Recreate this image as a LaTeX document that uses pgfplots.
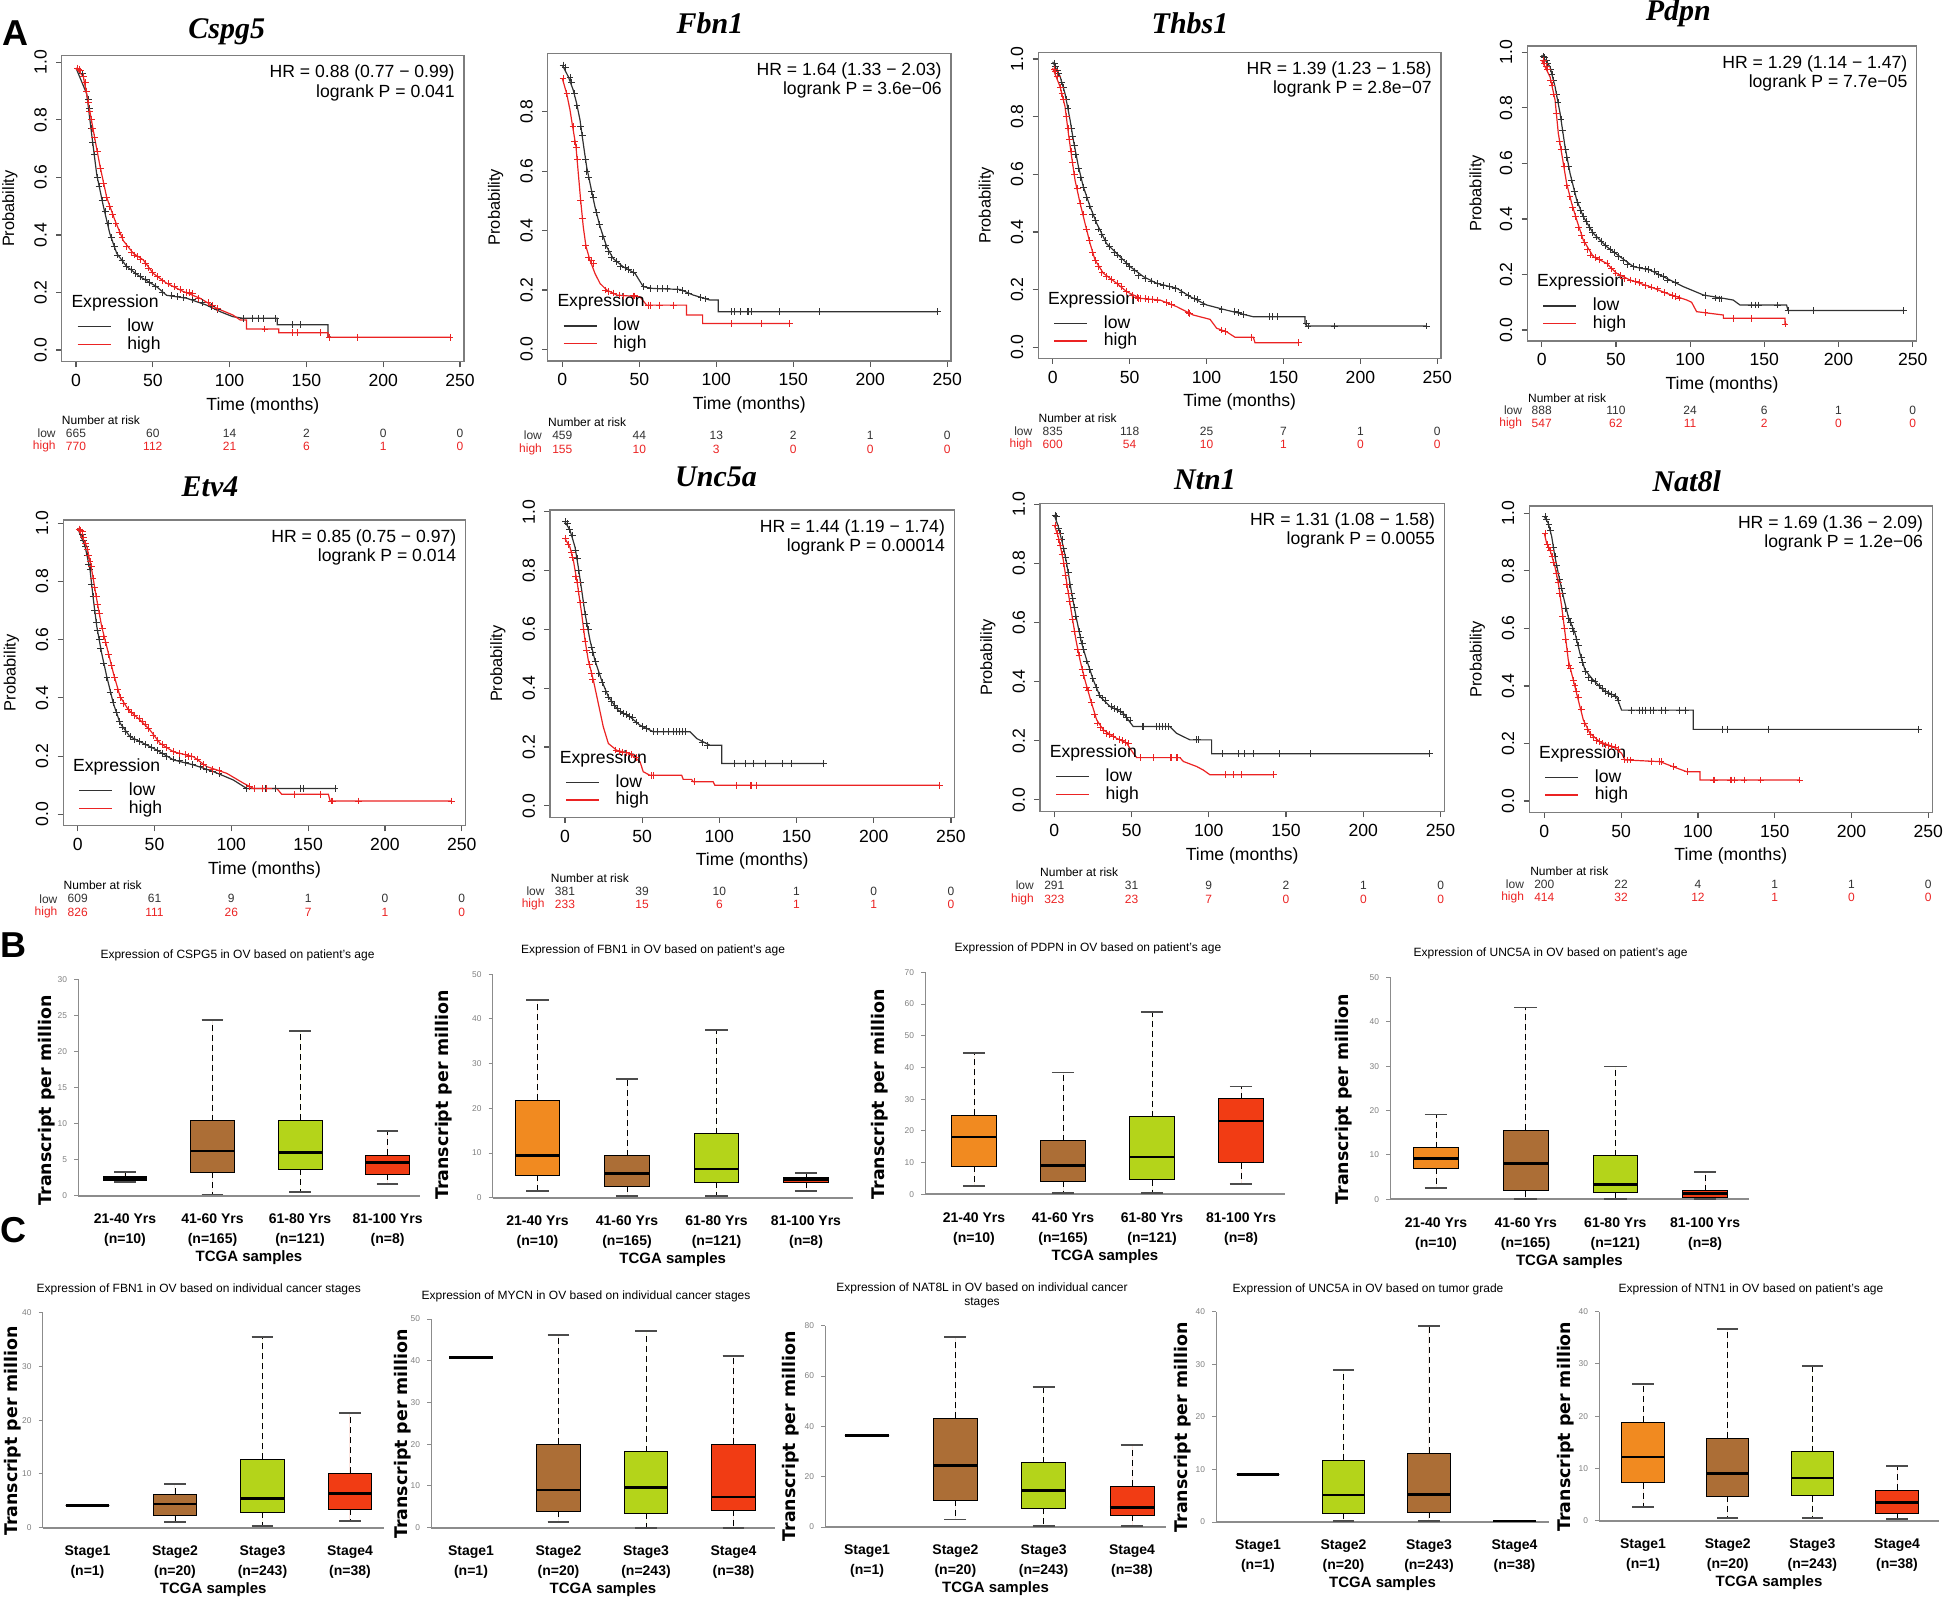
\documentclass[border=0pt]{standalone}
\usepackage{fontspec}
\setmainfont{Liberation Sans}
\newfontfamily\genefont{Liberation Serif}
\newfontfamily\dvfont{DejaVu Sans}
\usepackage{pgfplots}
\pgfplotsset{compat=1.18}
\usepgfplotslibrary{statistics}

\definecolor{kmlow}{RGB}{50,50,50}
\definecolor{kmhigh}{RGB}{235,35,35}
\definecolor{kmbox}{RGB}{125,125,125}
\definecolor{cOr}{RGB}{241,138,32}
\definecolor{cBr}{RGB}{172,110,54}
\definecolor{cGr}{RGB}{180,212,26}
\definecolor{cRd}{RGB}{241,60,20}

\newcommand{\kmfont}{\fontsize{8.8}{10}\selectfont}
\newcommand{\riskfont}{\fontsize{6}{7}\selectfont}

% one row of the number-at-risk table (inside a KM axis)
\newcommand{\riskrow}[9]{%
  \node[anchor=east,text=#2,font=\riskfont,inner sep=0pt] at (axis cs:-13,#1) {#3};
  \node[text=#2,font=\riskfont,inner sep=0pt] at (axis cs:0,#1) {#4};
  \node[text=#2,font=\riskfont,inner sep=0pt] at (axis cs:50,#1) {#5};
  \node[text=#2,font=\riskfont,inner sep=0pt] at (axis cs:100,#1) {#6};
  \node[text=#2,font=\riskfont,inner sep=0pt] at (axis cs:150,#1) {#7};
  \node[text=#2,font=\riskfont,inner sep=0pt] at (axis cs:200,#1) {#8};
  \node[text=#2,font=\riskfont,inner sep=0pt] at (axis cs:250,#1) {#9};
}
% HR text, legend title, risk table heading
\newcommand{\kmtext}[2]{%
  \node[anchor=north east,align=right,font=\fontsize{8.8}{9.6}\selectfont,inner sep=0pt,xshift=-4.5pt,yshift=-4.5pt] at (rel axis cs:1,1) {HR = #1\\logrank P = #2};
  \node[anchor=west,font=\kmfont,inner sep=0pt,xshift=4.7pt,yshift=29.3pt] at (rel axis cs:0,0) {Expression};
  \node[anchor=west,font=\riskfont,inner sep=0pt] at (axis cs:-9.4,-0.245) {Number at risk};
}
% one prepared box: position, lower whisker, q1, median, q3, upper whisker, colour
\newcommand{\bx}[7]{%
  \addplot[boxplot prepared={draw position=#1, lower whisker=#2, lower quartile=#3,
    median=#4, upper quartile=#5, upper whisker=#6}, fill=#7, draw=none] coordinates {};
}

\pgfplotsset{
  legend image code/.code={\draw[#1] (0pt,0pt) -- (16.5pt,0pt);},
  cens/.style={only marks, mark=+, mark size=1.7pt, line width=0.45pt, forget plot},
  km/.style={
    scale only axis, anchor=north west, clip=false,
    axis line style={draw=kmbox, line width=0.6pt},
    tick style={draw=kmbox!70!black, line width=0.6pt},
    tick align=outside, major tick length=2.8pt, tick pos=left,
    xtick={0,50,100,150,200,250}, ytick={0,0.2,0.4,0.6,0.8,1.0},
    tick label style={font=\kmfont},
    yticklabel style={rotate=90, anchor=south, inner sep=4.5pt},
    y tick label style={/pgf/number format/fixed, /pgf/number format/fixed zerofill, /pgf/number format/precision=1},
    /pgf/number format/assume math mode=true,
    xlabel={Time (months)}, ylabel={Probability},
    every axis x label/.style={at={(axis description cs:0.5,0)}, anchor=center, yshift=-22pt, font=\kmfont},
    every axis y label/.style={at={(axis description cs:-0.129,0.5)}, anchor=center, rotate=90, font=\fontsize{8.2}{10}\selectfont},
    legend style={at={(rel axis cs:0,0)}, anchor=south west, xshift=7.5pt, yshift=3.5pt,
      draw=none, fill=none, inner sep=0pt, row sep=-1pt, font=\kmfont, nodes={inner sep=1pt},
      /tikz/every odd column/.append style={column sep=7pt}},
    legend cell align=left,
  },
  bxax/.style={
    scale only axis, anchor=north west, clip=false,
    axis x line*=bottom, axis y line*=left,
    x axis line style={draw=gray!90, line width=1pt, -},
    y axis line style={draw=gray!90, line width=0.5pt, -},
    ymin=0, xtick={1,2,3,4},
    x tick style={draw=none},
    y tick style={draw=gray!90, line width=0.5pt},
    tick align=outside, major tick length=2pt,
    yticklabel style={font=\fontsize{4.2}{5}\selectfont, text=gray},
    xticklabel style={font=\bfseries\fontsize{7}{10}\selectfont, align=center, yshift=-3.5pt},
    /pgf/number format/assume math mode=true,
    xlabel={TCGA samples}, ylabel={Transcript per million},
    every axis x label/.style={at={(axis description cs:0.5,0)}, anchor=center, yshift=-31pt, font=\bfseries\fontsize{7.5}{9}\selectfont},
    every axis y label/.style={at={(axis description cs:-0.1,0.45)}, anchor=center, rotate=90, font=\dvfont\bfseries\fontsize{8.7}{10}\selectfont},
    boxplot/draw direction=y,
    boxplot/box extend=0.5, boxplot/whisker extend=0.25,
    boxplot/every median/.style={draw=black, line width=1.3pt},
    boxplot/draw/lower whisker/.code={%
      \draw[draw=black, densely dashed, line width=0.4pt]
        (boxplot box cs:\pgfplotsboxplotvalue{lower quartile},0.5) --
        (boxplot box cs:\pgfplotsboxplotvalue{lower whisker},0.5);
      \draw[draw=black!70, solid, line width=0.9pt]
        (boxplot whisker cs:\pgfplotsboxplotvalue{lower whisker},0) --
        (boxplot whisker cs:\pgfplotsboxplotvalue{lower whisker},1);
    },
    boxplot/draw/upper whisker/.code={%
      \draw[draw=black, densely dashed, line width=0.4pt]
        (boxplot box cs:\pgfplotsboxplotvalue{upper quartile},0.5) --
        (boxplot box cs:\pgfplotsboxplotvalue{upper whisker},0.5);
      \draw[draw=black!70, solid, line width=0.9pt]
        (boxplot whisker cs:\pgfplotsboxplotvalue{upper whisker},0) --
        (boxplot whisker cs:\pgfplotsboxplotvalue{upper whisker},1);
    },
  },
  agelabels/.style={xticklabels={{21-40 Yrs\\(n=10)},{41-60 Yrs\\(n=165)},{61-80 Yrs\\(n=121)},{81-100 Yrs\\(n=8)}}},
  stagelabels/.style={xticklabels={{Stage1\\(n=1)},{Stage2\\(n=20)},{Stage3\\(n=243)},{Stage4\\(n=38)}}},
}

\begin{document}
\begin{tikzpicture}
\useasboundingbox (0pt,0pt) rectangle (972pt,-800pt);

% ---------------- A: Kaplan-Meier curves ----------------
\begin{axis}[km, at={(30.85pt,-27.85pt)}, width=201.15pt, height=153pt,
  xmin=-9.31, xmax=252.6, ymin=-0.0407, ymax=1.0229]
\addplot[kmlow, line width=0.6pt] coordinates {(0,0.98)(7,0.89)(10.2,0.75)(13.5,0.61)(17.8,0.50)(22,0.405)(26.5,0.336)(33,0.29)(41.7,0.255)(52.5,0.22)(59,0.19)(72,0.18)(85,0.156)(94,0.133)(102,0.116)(109,0.11)(131,0.11)(131,0.088)(164,0.088)(164,0.045)(166,0.045)};
\addlegendentry{low}
\addplot[kmlow, cens] coordinates {(2,0.975)(3,0.97)(4,0.96)(5,0.95)(6,0.93)(7,0.9)(8,0.87)(9,0.84)(10,0.77)(11,0.72)(12,0.68)(14,0.6)(15,0.57)(17,0.52)(19,0.48)(21,0.44)(23,0.39)(25,0.36)(27,0.33)(30,0.31)(33,0.29)(36,0.28)(39,0.265)(42,0.255)(45,0.245)(48,0.235)(52,0.22)(56,0.2)(62,0.19)(66,0.185)(70,0.182)(76,0.175)(82,0.165)(88,0.15)(92,0.14)(109,0.11)(115,0.11)(119,0.11)(122,0.11)(130,0.11)(141,0.088)(146,0.088)};
\addplot[kmhigh, line width=0.6pt] coordinates {(0,0.98)(4.8,0.95)(9,0.83)(12.4,0.73)(15.6,0.64)(20,0.53)(25.4,0.45)(30.8,0.38)(37.3,0.336)(43.8,0.313)(50.3,0.266)(59,0.232)(70,0.203)(80.7,0.18)(91.6,0.145)(102,0.122)(107,0.104)(111,0.104)(111,0.073)(132,0.073)(132,0.06)(164,0.06)(164,0.044)(243.5,0.044)};
\addlegendentry{high}
\addplot[kmhigh, cens] coordinates {(1,0.98)(2,0.975)(3,0.97)(5,0.95)(6,0.93)(7,0.9)(8,0.86)(9,0.83)(10,0.8)(11,0.77)(12,0.74)(14,0.69)(16,0.63)(18,0.58)(20,0.53)(22,0.5)(24,0.47)(26,0.44)(28,0.41)(30,0.39)(33,0.36)(36,0.34)(38,0.33)(40,0.325)(42,0.315)(45,0.3)(47,0.285)(50,0.27)(53,0.255)(56,0.24)(60,0.23)(64,0.22)(68,0.21)(72,0.2)(74,0.2)(76,0.195)(80,0.18)(86,0.165)(89,0.155)(92,0.145)(123,0.073)(141,0.06)(144,0.06)(159,0.06)(165,0.044)(183,0.044)(243.5,0.044)};
\kmtext{0.88 (0.77 − 0.99)}{0.041}
\riskrow{-0.29}{kmlow}{low}{665}{60}{14}{2}{0}{0}
\riskrow{-0.336}{kmhigh}{high}{770}{112}{21}{6}{1}{0}
\end{axis}

\begin{axis}[km, at={(273.85pt,-26.65pt)}, width=201.65pt, height=153.85pt,
  xmin=-9.48, xmax=252.4, ymin=-0.039, ymax=0.9966]
\addplot[kmlow, line width=0.6pt] coordinates {(0,0.957)(3.9,0.918)(7.1,0.873)(9.3,0.828)(11.5,0.772)(13.6,0.693)(15.8,0.615)(18,0.559)(21.2,0.48)(24.5,0.413)(28.8,0.346)(33,0.306)(39.6,0.278)(47.2,0.256)(52.6,0.211)(59,0.205)(76.4,0.202)(85,0.183)(95.9,0.166)(101.3,0.166)(101.3,0.127)(243.5,0.127)};
\addlegendentry{low}
\addplot[kmlow, cens] coordinates {(0.5,0.957)(2,0.95)(5,0.915)(6,0.9)(8,0.86)(9.5,0.82)(12,0.75)(13,0.72)(15,0.64)(16,0.6)(17,0.58)(19,0.53)(20,0.51)(22,0.46)(24,0.42)(26,0.38)(28,0.35)(30,0.33)(32,0.31)(35,0.295)(38,0.28)(41,0.275)(43,0.27)(46,0.26)(53,0.211)(57,0.205)(62,0.205)(65,0.205)(68,0.205)(75,0.202)(78,0.198)(82,0.19)(90,0.175)(93,0.17)(110,0.127)(112,0.127)(116,0.127)(120,0.127)(121,0.127)(123,0.127)(141,0.127)(167,0.127)(243.5,0.127)};
\addplot[kmhigh, line width=0.6pt] coordinates {(0,0.912)(2.8,0.862)(5,0.806)(6.7,0.75)(8.9,0.682)(10.4,0.592)(11.9,0.503)(13.6,0.413)(15.4,0.346)(18,0.30)(21.2,0.256)(24.5,0.222)(28.8,0.2)(35.3,0.183)(50.4,0.177)(54.8,0.149)(80.7,0.149)(80.7,0.116)(91.1,0.116)(91.1,0.0875)(147.8,0.0875)};
\addlegendentry{high}
\addplot[kmhigh, cens] coordinates {(0.5,0.912)(3,0.86)(7,0.75)(8,0.7)(9,0.68)(10,0.64)(12,0.5)(13,0.44)(15,0.35)(17,0.31)(19,0.3)(20,0.29)(28,0.2)(30,0.195)(33,0.19)(37,0.183)(40,0.18)(46,0.18)(47,0.18)(56,0.149)(57,0.149)(63,0.149)(72,0.149)(110,0.0875)(129,0.0875)(147.8,0.0875)};
\kmtext{1.64 (1.33 − 2.03)}{3.6e−06}
\riskrow{-0.29}{kmlow}{low}{459}{44}{13}{2}{1}{0}
\riskrow{-0.336}{kmhigh}{high}{155}{10}{3}{0}{0}{0}
\end{axis}

\begin{axis}[km, at={(519.15pt,-26.15pt)}, width=201.35pt, height=153pt,
  xmin=-9.36, xmax=252.4, ymin=-0.038, ymax=1.023]
\addplot[kmlow, line width=0.6pt] coordinates {(0,0.99)(4.8,0.939)(8,0.88)(11.3,0.788)(13.4,0.719)(16.7,0.627)(19.9,0.557)(24.3,0.488)(28.6,0.43)(35,0.36)(43.8,0.314)(50.3,0.28)(59,0.245)(67.6,0.222)(80.6,0.205)(89.3,0.176)(100,0.147)(113,0.129)(130.4,0.106)(164,0.106)(164,0.083)(165,0.074)(243,0.074)};
\addlegendentry{low}
\addplot[kmlow, cens] coordinates {(1,0.985)(2,0.975)(3,0.96)(4,0.95)(6,0.92)(7,0.9)(9,0.86)(10,0.83)(12,0.76)(13,0.73)(14,0.7)(15,0.67)(17,0.62)(18,0.59)(20,0.555)(22,0.52)(24,0.49)(26,0.46)(28,0.44)(30,0.41)(32,0.39)(34,0.37)(37,0.35)(40,0.33)(42,0.32)(45,0.305)(48,0.29)(50,0.28)(53,0.265)(56,0.25)(60,0.24)(64,0.23)(68,0.222)(72,0.215)(76,0.21)(80,0.205)(84,0.19)(88,0.18)(92,0.17)(94,0.165)(98,0.15)(110,0.13)(118,0.125)(121,0.12)(124,0.115)(141,0.106)(143,0.106)(146,0.106)(165,0.083)(166,0.074)(183,0.074)(243,0.074)};
\addplot[kmhigh, line width=0.6pt] coordinates {(0,0.968)(4.8,0.904)(8,0.835)(10.2,0.742)(12.3,0.661)(14.5,0.58)(17.8,0.50)(21,0.43)(24.3,0.36)(27.5,0.303)(32.9,0.257)(41.6,0.222)(48.1,0.193)(56.8,0.17)(69.8,0.164)(80.6,0.141)(91.4,0.112)(102.3,0.097)(106.6,0.066)(113,0.054)(118.5,0.035)(130.4,0.035)(131.5,0.016)(159.7,0.016)};
\addlegendentry{high}
\addplot[kmhigh, cens] coordinates {(1,0.965)(2,0.955)(3,0.94)(5,0.9)(6,0.88)(7,0.86)(9,0.8)(10,0.76)(11,0.72)(12,0.68)(13,0.64)(14,0.6)(16,0.55)(18,0.5)(20,0.46)(22,0.41)(24,0.37)(26,0.33)(28,0.3)(30,0.28)(32,0.26)(35,0.245)(38,0.235)(42,0.222)(45,0.21)(48,0.195)(52,0.18)(55,0.172)(56,0.17)(57,0.17)(60,0.168)(62,0.167)(65,0.165)(68,0.164)(74,0.155)(77,0.148)(88,0.12)(89,0.118)(110,0.06)(112,0.054)(129,0.035)(159.7,0.016)};
\kmtext{1.39 (1.23 − 1.58)}{2.8e−07}
\riskrow{-0.29}{kmlow}{low}{835}{118}{25}{7}{1}{0}
\riskrow{-0.336}{kmhigh}{high}{600}{54}{10}{1}{0}{0}
\end{axis}

\begin{axis}[km, at={(763.65pt,-23pt)}, width=194.7pt, height=147.5pt,
  xmin=-9.7, xmax=252.7, ymin=-0.0396, ymax=1.0227]
\addplot[kmlow, line width=0.6pt] coordinates {(0,0.99)(5.6,0.948)(9,0.876)(12.4,0.78)(15.7,0.66)(19.1,0.564)(23.6,0.468)(28,0.408)(34.8,0.348)(43.8,0.30)(52.8,0.264)(61.8,0.228)(73,0.216)(82,0.192)(95.5,0.156)(109,0.126)(129,0.108)(133.6,0.09)(165,0.09)(166,0.07)(243.7,0.07)};
\addlegendentry{low}
\addplot[kmlow, cens] coordinates {(1,0.985)(2,0.98)(3,0.97)(4,0.96)(6,0.94)(7,0.92)(8,0.9)(10,0.85)(11,0.82)(13,0.76)(14,0.72)(16,0.65)(17,0.62)(18,0.59)(20,0.54)(22,0.5)(24,0.46)(26,0.43)(28,0.41)(30,0.39)(32,0.37)(34,0.35)(37,0.335)(40,0.32)(43,0.305)(46,0.29)(49,0.28)(52,0.265)(55,0.25)(58,0.235)(62,0.228)(66,0.225)(70,0.22)(72,0.217)(76,0.21)(79,0.2)(82,0.192)(85,0.18)(90,0.17)(110,0.125)(117,0.115)(120,0.112)(121,0.112)(141,0.09)(144,0.09)(146,0.09)(159,0.09)(166,0.07)(183,0.07)(243.7,0.07)};
\addplot[kmhigh, line width=0.6pt] coordinates {(0,0.972)(5.6,0.912)(9,0.828)(11.2,0.708)(14.2,0.612)(16.8,0.528)(20.2,0.456)(23.6,0.396)(28,0.324)(34.8,0.264)(43.8,0.24)(50.5,0.204)(59.5,0.18)(73,0.156)(84.2,0.132)(97.7,0.108)(101,0.1)(104.4,0.066)(122.4,0.054)(122.4,0.042)(164,0.042)(164,0.0216)(165,0.0216)};
\addlegendentry{high}
\addplot[kmhigh, cens] coordinates {(1,0.97)(2,0.96)(3,0.95)(4,0.94)(6,0.9)(7,0.88)(8,0.85)(10,0.78)(12,0.68)(13,0.65)(15,0.59)(17,0.52)(19,0.48)(21,0.44)(23,0.41)(25,0.37)(27,0.34)(29,0.315)(31,0.29)(33,0.27)(36,0.26)(39,0.255)(44,0.24)(47,0.22)(50,0.205)(53,0.195)(56,0.185)(60,0.18)(63,0.175)(66,0.17)(70,0.16)(74,0.155)(78,0.148)(83,0.135)(88,0.125)(90,0.12)(93,0.115)(110,0.062)(129,0.042)(141,0.042)(164,0.0216)};
\kmtext{1.29 (1.14 − 1.47)}{7.7e−05}
\riskrow{-0.29}{kmlow}{low}{888}{110}{24}{6}{1}{0}
\riskrow{-0.336}{kmhigh}{high}{547}{62}{11}{2}{0}{0}
\end{axis}

\begin{axis}[km, at={(31.65pt,-260pt)}, width=201.2pt, height=152.85pt,
  xmin=-9.4, xmax=252.6, ymin=-0.039, ymax=1.011]
\addplot[kmlow, line width=0.6pt] coordinates {(0,0.983)(4.8,0.92)(8,0.84)(10.2,0.737)(12.4,0.645)(15.6,0.553)(18.9,0.473)(23.2,0.381)(27.6,0.313)(34,0.267)(42.8,0.244)(51.4,0.221)(62.3,0.187)(75.3,0.17)(88.3,0.147)(101.3,0.118)(110,0.089)(167.5,0.089)};
\addlegendentry{low}
\addplot[kmlow, cens] coordinates {(1,0.98)(2,0.975)(3,0.96)(4,0.94)(5,0.92)(6,0.89)(7,0.86)(8,0.84)(9,0.79)(10,0.75)(11,0.7)(12,0.66)(13,0.63)(14,0.6)(15,0.57)(17,0.52)(19,0.47)(21,0.42)(23,0.385)(25,0.35)(27,0.32)(29,0.3)(31,0.285)(34,0.267)(37,0.258)(40,0.25)(44,0.24)(48,0.23)(52,0.22)(55,0.21)(58,0.2)(62,0.19)(66,0.185)(70,0.178)(75,0.17)(80,0.163)(84,0.155)(88,0.147)(92,0.14)(110,0.089)(120,0.089)(122,0.089)(129,0.089)(145,0.089)(147,0.089)(167.5,0.089)};
\addplot[kmhigh, line width=0.6pt] coordinates {(0,0.983)(5.9,0.92)(9.1,0.84)(12.4,0.737)(15.6,0.645)(18.9,0.576)(23.2,0.485)(27.6,0.404)(33,0.359)(40.6,0.324)(47,0.29)(53.6,0.244)(62.3,0.215)(75.3,0.198)(84,0.164)(97,0.141)(107.9,0.107)(114.4,0.089)(129.6,0.089)(132.8,0.069)(163.2,0.069)(164.3,0.046)(243.5,0.046)};
\addlegendentry{high}
\addplot[kmhigh, cens] coordinates {(1,0.98)(2,0.975)(3,0.97)(4,0.95)(5,0.93)(6,0.91)(7,0.89)(8,0.87)(9,0.85)(10,0.81)(11,0.78)(12,0.75)(13,0.72)(14,0.69)(16,0.64)(17,0.61)(18,0.59)(20,0.55)(22,0.51)(24,0.47)(26,0.43)(28,0.4)(30,0.38)(33,0.36)(35,0.35)(37,0.34)(40,0.33)(42,0.32)(44,0.31)(46,0.295)(49,0.27)(52,0.255)(55,0.24)(58,0.23)(62,0.215)(66,0.21)(70,0.205)(72,0.2)(74,0.2)(78,0.19)(82,0.17)(88,0.155)(92,0.15)(112,0.095)(115,0.089)(120,0.089)(123,0.089)(141,0.069)(158,0.069)(165,0.046)(166,0.046)(183,0.046)(243.5,0.046)};
\kmtext{0.85 (0.75 − 0.97)}{0.014}
\riskrow{-0.29}{kmlow}{low}{609}{61}{9}{1}{0}{0}
\riskrow{-0.336}{kmhigh}{high}{826}{111}{26}{7}{1}{0}
\end{axis}

\begin{axis}[km, at={(275pt,-255pt)}, width=202.15pt, height=153.65pt,
  xmin=-9.7, xmax=252.2, ymin=-0.039, ymax=1.006]
\addplot[kmlow, line width=0.6pt] coordinates {(0,0.966)(3.2,0.938)(6.5,0.88)(8.6,0.813)(10.8,0.734)(13,0.654)(16.2,0.563)(19.4,0.495)(23.7,0.427)(28.1,0.371)(34.5,0.325)(42.1,0.303)(48.6,0.274)(57.2,0.252)(81,0.252)(85.3,0.229)(93.9,0.206)(101.5,0.206)(101.5,0.144)(167.3,0.144)};
\addlegendentry{low}
\addplot[kmlow, cens] coordinates {(0.5,0.966)(1.5,0.96)(3,0.94)(5,0.92)(7,0.87)(8,0.84)(9,0.8)(10,0.76)(12,0.69)(13,0.65)(14,0.62)(15,0.6)(17,0.54)(18,0.52)(20,0.49)(22,0.45)(24,0.42)(26,0.39)(28,0.37)(30,0.355)(32,0.34)(34,0.33)(36,0.32)(38,0.315)(40,0.31)(42,0.303)(44,0.3)(46,0.285)(50,0.27)(53,0.262)(57,0.252)(60,0.252)(64,0.252)(67,0.252)(70,0.252)(72,0.252)(74,0.252)(76,0.252)(78,0.252)(89,0.215)(92,0.206)(110,0.144)(117,0.144)(122,0.144)(130,0.144)(141,0.144)(147,0.144)(167.3,0.144)};
\addplot[kmhigh, line width=0.6pt] coordinates {(0,0.909)(3.2,0.88)(5.4,0.836)(8,0.756)(10.8,0.654)(13,0.563)(15.1,0.495)(18.4,0.427)(21.6,0.348)(24.8,0.269)(28.1,0.212)(33.5,0.189)(42.1,0.178)(48.6,0.15)(50.7,0.116)(55,0.104)(75.6,0.104)(76.6,0.09)(82,0.09)(83.1,0.082)(96,0.082)(97.1,0.07)(242.9,0.07)};
\addlegendentry{high}
\addplot[kmhigh, cens] coordinates {(0.5,0.909)(2,0.89)(4,0.86)(5,0.845)(7,0.78)(8,0.76)(9,0.73)(10,0.69)(12,0.6)(13,0.56)(14,0.53)(16,0.48)(17,0.45)(18,0.43)(33,0.19)(35,0.185)(37,0.183)(40,0.18)(43,0.175)(46,0.165)(56,0.104)(57,0.104)(84,0.082)(111,0.07)(120,0.07)(121,0.07)(124,0.07)(242.9,0.07)};
\kmtext{1.44 (1.19 − 1.74)}{0.00014}
\riskrow{-0.29}{kmlow}{low}{381}{39}{10}{1}{0}{0}
\riskrow{-0.336}{kmhigh}{high}{233}{15}{6}{1}{1}{0}
\end{axis}

\begin{axis}[km, at={(520pt,-251.65pt)}, width=202.15pt, height=154.2pt,
  xmin=-9.25, xmax=252.4, ymin=-0.04, ymax=1.0034]
\addplot[kmlow, line width=0.6pt] coordinates {(0,0.964)(2.6,0.924)(5.8,0.857)(8,0.8)(11.2,0.7)(14.5,0.609)(17.7,0.53)(20.9,0.474)(25.2,0.406)(29.6,0.35)(36,0.316)(44.7,0.293)(51.1,0.248)(74.8,0.248)(79.2,0.225)(87.8,0.203)(101.8,0.203)(101.8,0.156)(243,0.156)};
\addlegendentry{low}
\addplot[kmlow, cens] coordinates {(0.5,0.964)(1.5,0.96)(3,0.92)(4,0.9)(5,0.88)(6,0.85)(7,0.82)(8,0.8)(9,0.77)(10,0.73)(11,0.7)(12,0.68)(13,0.65)(14,0.62)(16,0.57)(17,0.55)(18,0.53)(19,0.51)(21,0.47)(23,0.44)(25,0.41)(27,0.38)(29,0.355)(31,0.345)(33,0.335)(37,0.315)(39,0.31)(41,0.305)(43,0.3)(45,0.29)(47,0.28)(49,0.27)(57,0.248)(58,0.248)(66,0.248)(68,0.248)(70,0.248)(72,0.248)(74,0.248)(92,0.203)(93,0.203)(109,0.156)(119,0.156)(123,0.156)(129,0.156)(146,0.156)(166,0.156)(243,0.156)};
\addplot[kmhigh, line width=0.6pt] coordinates {(0,0.93)(2.6,0.89)(5.8,0.812)(8.4,0.722)(11.2,0.631)(14,0.541)(16.6,0.474)(19.8,0.406)(23.5,0.338)(27.4,0.271)(31.7,0.237)(38.2,0.214)(46.8,0.192)(51.1,0.158)(53.3,0.143)(81.3,0.143)(83.5,0.13)(92.1,0.113)(96.4,0.101)(100.7,0.085)(141.7,0.085)};
\addlegendentry{high}
\addplot[kmhigh, cens] coordinates {(0.5,0.93)(2,0.9)(3,0.88)(4,0.86)(5,0.83)(6,0.8)(7,0.76)(8,0.73)(9,0.7)(10,0.67)(12,0.61)(13,0.57)(15,0.51)(16,0.49)(18,0.44)(19,0.42)(21,0.38)(22,0.37)(24,0.33)(26,0.29)(28,0.26)(30,0.245)(32,0.235)(34,0.225)(36,0.22)(38,0.214)(42,0.205)(44,0.2)(46,0.195)(48,0.19)(56,0.143)(64,0.143)(75,0.143)(76,0.143)(79,0.143)(80,0.143)(111,0.085)(116,0.085)(121,0.085)(141.7,0.085)};
\kmtext{1.31 (1.08 − 1.58)}{0.0055}
\riskrow{-0.29}{kmlow}{low}{291}{31}{9}{2}{1}{0}
\riskrow{-0.336}{kmhigh}{high}{323}{23}{7}{0}{0}{0}
\end{axis}

\begin{axis}[km, at={(764.65pt,-253pt)}, width=201.5pt, height=153.15pt,
  xmin=-9.77, xmax=252.6, ymin=-0.039, ymax=1.025]
\addplot[kmlow, line width=0.6pt] coordinates {(0,0.988)(2.6,0.965)(4.8,0.919)(6.9,0.849)(9.1,0.791)(12.4,0.71)(15.6,0.64)(20,0.583)(23.2,0.513)(26.5,0.455)(31.9,0.42)(38.4,0.386)(47,0.363)(50.3,0.316)(97,0.316)(97,0.249)(243.5,0.249)};
\addlegendentry{low}
\addplot[kmlow, cens] coordinates {(0.5,0.988)(1.5,0.98)(3,0.96)(4,0.94)(6,0.88)(7,0.85)(8,0.82)(10,0.77)(11,0.74)(12,0.72)(14,0.67)(16,0.635)(17,0.62)(18,0.6)(19,0.59)(21,0.56)(22,0.54)(24,0.5)(25,0.48)(27,0.45)(29,0.43)(31,0.42)(33,0.415)(36,0.4)(38,0.39)(40,0.38)(42,0.375)(44,0.37)(46,0.365)(48,0.35)(57,0.316)(62,0.316)(64,0.316)(66,0.316)(69,0.316)(71,0.316)(76,0.316)(79,0.316)(88,0.316)(92,0.316)(116,0.249)(119,0.249)(146,0.249)(243.5,0.249)};
\addplot[kmhigh, line width=0.6pt] coordinates {(0,0.93)(1.5,0.896)(3.7,0.873)(6.9,0.815)(9.1,0.757)(11.3,0.676)(13.5,0.583)(15.6,0.49)(18.9,0.42)(22.1,0.351)(25.4,0.282)(29.7,0.235)(36.2,0.206)(44.9,0.189)(50.3,0.166)(52.5,0.143)(75.3,0.137)(84,0.119)(92.7,0.102)(101.3,0.102)(101.3,0.073)(166.4,0.073)};
\addlegendentry{high}
\addplot[kmhigh, cens] coordinates {(0.5,0.93)(2,0.89)(3,0.88)(4,0.87)(5,0.85)(6,0.83)(8,0.79)(9,0.76)(10,0.72)(12,0.64)(13,0.6)(14,0.56)(15,0.52)(16,0.47)(17,0.46)(19,0.42)(20,0.4)(21,0.38)(22,0.36)(24,0.32)(26,0.27)(28,0.25)(30,0.23)(32,0.22)(34,0.21)(36,0.206)(38,0.2)(40,0.195)(42,0.193)(44,0.19)(46,0.188)(48,0.18)(52,0.143)(54,0.143)(56,0.143)(70,0.138)(75,0.137)(76,0.137)(84,0.119)(93,0.102)(110,0.073)(111,0.073)(121,0.073)(122,0.073)(124,0.073)(130,0.073)(141,0.073)(166.4,0.073)};
\kmtext{1.69 (1.36 − 2.09)}{1.2e−06}
\riskrow{-0.29}{kmlow}{low}{200}{22}{4}{1}{1}{0}
\riskrow{-0.336}{kmhigh}{high}{414}{32}{12}{1}{0}{0}
\end{axis}

% ---------------- B: expression by age ----------------
\begin{axis}[bxax, agelabels, at={(39pt,-489.65pt)}, width=171pt, height=108.2pt,
  xmin=0.463, xmax=4.371, ymax=30, ytick={0,5,10,15,20,25,30},
  ylabel style={at={(axis description cs:-0.091,0.44)}}]
\bx{1}{1.85}{2.17}{2.4}{2.64}{3.33}{cOr}
\bx{2}{0.18}{3.24}{6.2}{10.4}{24.4}{cBr}
\bx{3}{0.55}{3.65}{5.96}{10.5}{22.8}{cGr}
\bx{4}{1.57}{2.96}{4.62}{5.64}{8.97}{cRd}
\end{axis}

\begin{axis}[bxax, agelabels, at={(246.25pt,-487.15pt)}, width=180.25pt, height=111.7pt,
  xmin=0.497, xmax=4.525, ymax=50, ytick={0,10,20,30,40,50},
  ylabel style={at={(axis description cs:-0.135,0.46)}}]
\bx{1}{1.57}{5.07}{9.4}{21.8}{44.2}{cOr}
\bx{2}{0.45}{2.54}{5.37}{9.4}{26.6}{cBr}
\bx{3}{0.45}{3.5}{6.4}{14.3}{37.5}{cGr}
\bx{4}{1.5}{3.43}{4.1}{4.55}{5.5}{cRd}
\end{axis}

\begin{axis}[bxax, agelabels, at={(462.5pt,-486.15pt)}, width=180pt, height=111pt,
  xmin=0.449, xmax=4.494, ymax=70, ytick={0,10,20,30,40,50,60,70},
  ylabel style={at={(axis description cs:-0.125,0.45)}}]
\bx{1}{2.6}{8.8}{18.1}{25.0}{44.5}{cOr}
\bx{2}{0.5}{4.2}{9.0}{16.9}{38.4}{cBr}
\bx{3}{0.5}{4.6}{11.8}{24.5}{57.4}{cGr}
\bx{4}{3.3}{10.0}{23.1}{30.1}{34.0}{cRd}
\end{axis}

\begin{axis}[bxax, agelabels, at={(695pt,-488.65pt)}, width=179.4pt, height=111pt,
  xmin=0.487, xmax=4.488, ymax=50, ytick={0,10,20,30,40,50},
  ylabel style={at={(axis description cs:-0.128,0.45)}}]
\bx{1}{2.6}{7.0}{9.2}{11.6}{19.1}{cOr}
\bx{2}{0.15}{1.9}{8.0}{15.5}{43.2}{cBr}
\bx{3}{0.15}{1.5}{3.4}{9.8}{29.9}{cGr}
\bx{4}{0.15}{0.45}{1.28}{1.95}{6.2}{cRd}
\end{axis}

% ---------------- C: expression by stage ----------------
\begin{axis}[bxax, stagelabels, at={(21.25pt,-656.35pt)}, width=170.75pt, height=107.5pt,
  xmin=0.486, xmax=4.389, ymax=40, ytick={0,10,20,30,40},
  ylabel style={at={(axis description cs:-0.088,0.45)}}]
\bx{1}{4.1}{4.1}{4.1}{4.1}{4.1}{cOr}
\bx{2}{1.1}{2.36}{4.4}{6.2}{8.06}{cBr}
\bx{3}{0.3}{2.85}{5.4}{12.7}{35.5}{cGr}
\bx{4}{1.24}{3.4}{6.4}{10.1}{21.3}{cRd}
\end{axis}

\begin{axis}[bxax, stagelabels, at={(215.5pt,-659.5pt)}, width=172pt, height=104.35pt,
  xmin=0.543, xmax=4.474, ymax=50, ytick={0,10,20,30,40,50},
  ylabel style={at={(axis description cs:-0.081,0.45)}}]
\bx{1}{40.8}{40.8}{40.8}{40.8}{40.8}{cOr}
\bx{2}{1.44}{3.9}{9.0}{20.0}{46.1}{cBr}
\bx{3}{0}{3.5}{9.66}{18.2}{47.2}{cGr}
\bx{4}{0}{4.15}{7.35}{20.0}{41.2}{cRd}
\end{axis}

\begin{axis}[bxax, stagelabels, at={(412.5pt,-662.85pt)}, width=170.5pt, height=100.65pt,
  xmin=0.524, xmax=4.385, ymax=80, ytick={0,20,40,60,80},
  ylabel style={at={(axis description cs:-0.1,0.45)}}]
\bx{1}{36.3}{36.3}{36.3}{36.3}{36.3}{cOr}
\bx{2}{3.0}{10.7}{24.4}{43.2}{75.6}{cBr}
\bx{3}{0.4}{7.5}{14.6}{25.6}{55.5}{cGr}
\bx{4}{0.3}{4.6}{7.7}{16.3}{32.6}{cRd}
\end{axis}

\begin{axis}[bxax, stagelabels, at={(608pt,-655.85pt)}, width=166.5pt, height=105.15pt,
  xmin=0.509, xmax=4.404, ymax=40, ytick={0,10,20,30,40},
  ylabel style={at={(axis description cs:-0.099,0.45)}}]
\bx{1}{9.07}{9.07}{9.07}{9.07}{9.07}{cOr}
\bx{2}{0.25}{1.65}{5.1}{11.8}{28.9}{cGr}
\bx{3}{0.2}{1.84}{5.26}{13.1}{37.3}{cBr}
\bx{4}{0.2}{0.2}{0.2}{0.2}{0.2}{cRd}
\end{axis}

\begin{axis}[bxax, stagelabels, at={(799.5pt,-655.85pt)}, width=170pt, height=104.5pt,
  xmin=0.48, xmax=4.496, ymax=40, ytick={0,10,20,30,40},
  ylabel style={at={(axis description cs:-0.097,0.45)}}]
\bx{1}{2.6}{7.3}{12.2}{18.9}{26.2}{cOr}
\bx{2}{0.45}{4.66}{9.06}{15.8}{36.7}{cBr}
\bx{3}{0.57}{4.8}{8.2}{13.2}{29.6}{cGr}
\bx{4}{0.26}{1.4}{3.5}{5.87}{10.4}{cRd}
\end{axis}

% ---------------- panel letters and titles ----------------
\begin{scope}[every node/.style={inner sep=0pt}]
\node[font=\bfseries\fontsize{18}{18}\selectfont] at (7.75pt,-16.75pt) {A};
\node[font=\bfseries\fontsize{18}{18}\selectfont] at (6.5pt,-472.5pt) {B};
\node[font=\bfseries\fontsize{18}{18}\selectfont] at (6.5pt,-615pt) {C};
\tikzset{gene/.style={font=\genefont\bfseries\itshape\fontsize{15}{15}\selectfont}}
\node[gene] at (113.35pt,-15.85pt) {Cspg5};
\node[gene] at (355pt,-11.65pt) {Fbn1};
\node[gene] at (595pt,-11.65pt) {Thbs1};
\node[gene] at (839.15pt,-6.65pt) {Pdpn};
\node[gene] at (105pt,-243.35pt) {Etv4};
\node[gene] at (358pt,-238.35pt) {Unc5a};
\node[gene] at (602.5pt,-240pt) {Ntn1};
\node[gene] at (843.35pt,-240.85pt) {Nat8l};
\tikzset{btitle/.style={font=\fontsize{6}{7.2}\selectfont, align=center}}
\node[btitle] at (118.75pt,-477.85pt) {Expression of CSPG5 in OV based on patient's age};
\node[btitle] at (326.5pt,-475pt) {Expression of FBN1 in OV based on patient's age};
\node[btitle] at (544pt,-474.15pt) {Expression of PDPN in OV based on patient's age};
\node[btitle] at (775.3pt,-476.65pt) {Expression of UNC5A in OV based on patient's age};
\node[btitle] at (99.4pt,-644.65pt) {Expression of FBN1 in OV based on individual cancer stages};
\node[btitle] at (293pt,-648pt) {Expression of MYCN in OV based on individual cancer stages};
\node[btitle] at (491pt,-647.75pt) {Expression of NAT8L in OV based on individual cancer\\stages};
\node[btitle] at (684pt,-644.5pt) {Expression of UNC5A in OV based on tumor grade};
\node[btitle] at (875.5pt,-644.5pt) {Expression of NTN1 in OV based on patient's age};
\end{scope}
\end{tikzpicture}
\end{document}
